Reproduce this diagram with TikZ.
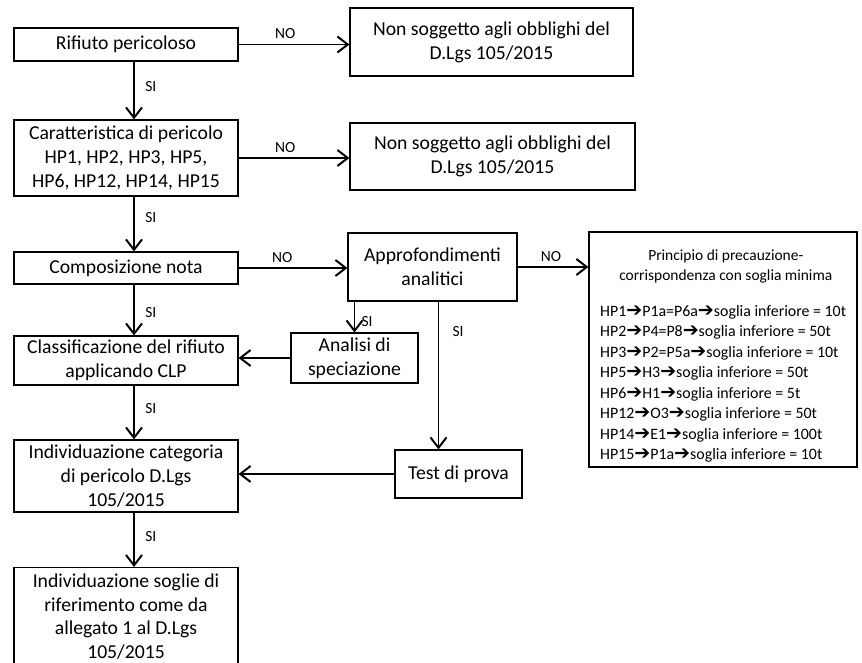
\documentclass[tikz,border=0pt]{standalone}
\usepackage{fontspec}
\setmainfont{Carlito}
\newfontfamily\symfont{DejaVu Sans}
\usetikzlibrary{arrows.meta}
\newcommand{\harr}{\scalebox{1.2}{\symfont\char"2794}}
\begin{document}
\begin{tikzpicture}[x=0.025cm, y=-0.025cm,
    box/.style={draw, line width=0.8pt, align=center, inner sep=2pt,
      font=\fontsize{14}{17}\selectfont},
    arr/.style={-{Straight Barb[length=2.6mm,width=4mm]}, line width=1.4pt},
    lab/.style={font=\fontsize{11}{13}\selectfont}]
  \useasboundingbox (0,0) rectangle (862,663);
  \node[box, minimum width=5.6cm, minimum height=0.825cm] (rif) at (126,44.5) {Rifiuto pericoloso};
  \node[box, minimum width=7.075cm, minimum height=1.7cm] (non1) at (491.5,42) {Non soggetto agli obblighi del\\D.Lgs 105/2015};
  \node[box, minimum width=5.6cm, minimum height=1.9cm] (car) at (126,158) {Caratteristica di pericolo\\HP1, HP2, HP3, HP5,\\HP6, HP12, HP14, HP15};
  \node[box, minimum width=7.125cm, minimum height=1.675cm] (non2) at (492.5,156.5) {Non soggetto agli obblighi del\\D.Lgs 105/2015};
  \node[box, minimum width=5.6cm, minimum height=0.8cm] (comp) at (126,268) {Composizione nota};
  \node[box, minimum width=4.225cm, minimum height=1.7cm] (appr) at (432.5,267) {Approfondimenti\\analitici};
  \node[box, minimum width=6.7cm, minimum height=5.875cm] (prin) at (723,349.5) {};
  \node[anchor=north, align=center, font=\fontsize{11}{14.2}\selectfont] (tit) at ([xshift=0.07cm, yshift=-0.33cm]prin.north) {Principio di precauzione-\\corrispondenza con soglia minima};
  \node[anchor=north west, align=left, font=\fontsize{11.3}{14.6}\selectfont] (lst) at ([xshift=0.17cm, yshift=-1.72cm]prin.north west) {HP1\harr P1a=P6a\harr soglia inferiore = 10t\\
    HP2\harr P4=P8\harr soglia inferiore = 50t\\
    HP3\harr P2=P5a\harr soglia inferiore = 10t\\
    HP5\harr H3\harr soglia inferiore = 50t\\
    HP6\harr H1\harr soglia inferiore = 5t\\
    HP12\harr O3\harr soglia inferiore = 50t\\
    HP14\harr E1\harr soglia inferiore = 100t\\
    HP15\harr P1a\harr soglia inferiore = 10t};
  \node[box, minimum width=5.6cm, minimum height=1.225cm] (cla) at (126,360.5) {Classificazione del rifiuto\\applicando CLP};
  \node[box, minimum width=3.175cm, minimum height=1.25cm] (ana) at (354.5,358) {Analisi di\\speciazione};
  \node[box, minimum width=5.6cm, minimum height=1.8cm] (cat) at (126,476) {Individuazione categoria\\di pericolo D.Lgs\\105/2015};
  \node[box, minimum width=3.175cm, minimum height=1.2cm] (test) at (458.5,474) {Test di prova};
  \node[box, minimum width=5.6cm, minimum height=2.45cm, anchor=north] (sog) at (126,567) {Individuazione soglie di\\riferimento come da\\allegato 1 al D.Lgs\\105/2015};

  \draw[arr] (rif.east) -- node[lab, above, pos=0.42] {NO} (rif.east -| non1.west);
  \draw[arr] (car.east) -- node[lab, above, pos=0.42] {NO} (car.east -| non2.west);
  \draw[arr] (comp.east) -- node[lab, above, pos=0.4] {NO} (comp.east -| appr.west);
  \draw[arr] (appr.east) -- node[lab, above, pos=0.47] {NO} (appr.east -| prin.west);
  \draw[arr] ([xshift=0.2cm]rif.south) -- node[lab, right=4pt, pos=0.44] {SI} ([xshift=0.2cm]car.north);
  \draw[arr] ([xshift=0.2cm]car.south) -- node[lab, right=4pt, pos=0.38] {SI} ([xshift=0.2cm]comp.north);
  \draw[arr] ([xshift=0.2cm]comp.south) -- node[lab, right=4pt, pos=0.55] {SI} ([xshift=0.2cm]cla.north);
  \draw[arr] ([xshift=0.2cm]cla.south) -- node[lab, right=4pt, pos=0.42] {SI} ([xshift=0.2cm]cat.north);
  \draw[arr] ([xshift=0.2cm]cat.south) -- node[lab, right=4pt, pos=0.44] {SI} ([xshift=0.2cm]sog.north);
  \draw[arr] (ana.north |- appr.south) -- node[lab, right=1pt, pos=0.65] {SI} (ana.north);
  \draw[arr] ([xshift=-0.5cm]test.north |- appr.south) -- node[lab, right=6pt, pos=0.2] {SI} ([xshift=-0.5cm]test.north);
  \draw[arr] (ana.west) -- (ana.west -| cla.east);
  \draw[arr] (test.west) -- (test.west -| cat.east);
\end{tikzpicture}
\end{document}
